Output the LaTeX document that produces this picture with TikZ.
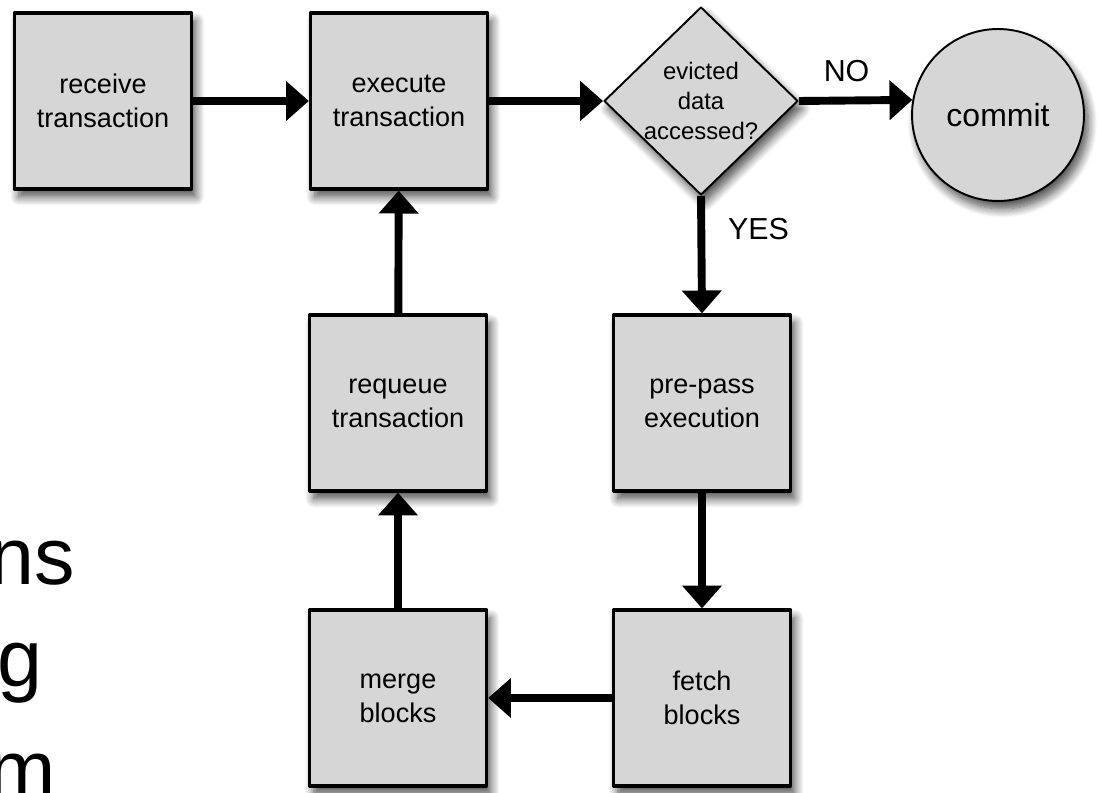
\documentclass[tikz,border=0pt]{standalone}
\usepackage{fontspec}
\setmainfont{Liberation Sans}
\usetikzlibrary{shapes.geometric,arrows.meta,shadows.blur}
\definecolor{boxgray}{RGB}{214,214,214}

\begin{document}
\begin{tikzpicture}[x=0.02cm, y=-0.02cm, line join=round,
  >={Triangle[width=22pt,length=13pt]},
  flow/.style={line width=4.5pt, ->},
  soft/.style={blur shadow={shadow xshift=2.5pt, shadow yshift=-4.5pt, shadow blur radius=5pt,
    shadow blur steps=10, shadow opacity=70}},
  stepbox/.style={draw, line width=1.9pt, fill=boxgray, soft, minimum width=3.54cm, minimum height=3.52cm,
    align=center, font=\fontsize{15.4}{19.3}\selectfont},
  decision/.style={diamond, draw, line width=1.1pt, fill=boxgray, soft, inner sep=0pt,
    minimum width=3.88cm, minimum height=3.76cm},
  endnode/.style={circle, draw, line width=1.1pt, fill=boxgray, soft, minimum size=3.44cm,
    font=\fontsize{18.2}{22}\selectfont},
  tag/.style={font=\fontsize{17.3}{20}\selectfont},
  bigtext/.style={font=\fontsize{46}{55}\selectfont, inner sep=0pt}]
\useasboundingbox (0,0) rectangle (1099,793);

% cut-off words at the left edge
\node[bigtext, anchor=base east] (frag1) at (75,585) {ns};
\node[bigtext, anchor=base west] (frag2) at (-3,686) {g};
\node[bigtext, anchor=base west] (frag3) at (-12,797) {m};

% steps
\node[stepbox] (receive) at (103,101) {receive\\transaction};
\node[stepbox] (execute) at (399,101) {execute\\transaction};
\node[decision] (evicted) at (701,101) {};
\node[align=center, font=\fontsize{13.6}{17}\selectfont] (question) at (evicted) {evicted\\data\\accessed?};
\node[endnode] (commit) at (998,115) {commit};
\node[stepbox] (requeue) at (398,403) {requeue\\transaction};
\node[stepbox] (prepass) at (702,403) {pre-pass\\execution};
\node[stepbox] (merge) at (398,698) {merge\\blocks};
\node[stepbox] (fetch) at (702,698) {fetch\\blocks};

% connectors
\draw[flow] (receive) -- (execute);
\draw[flow] (execute) -- (evicted);
\draw[flow] (evicted.east) -- (commit.170) node[tag, pos=0.42, above=0.18cm] {NO};
\draw[flow] (evicted.south) -- (prepass.north) node[tag, pos=0.28, right=0.34cm] {YES};
\draw[flow] (prepass) -- (fetch);
\draw[flow] (fetch) -- (merge);
\draw[flow] (merge) -- (requeue);
\draw[flow] (requeue) -- (execute);
\end{tikzpicture}
\end{document}
